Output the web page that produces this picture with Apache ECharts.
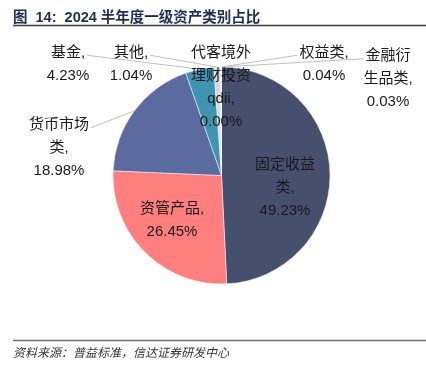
<!DOCTYPE html>
<html>
<head>
<meta charset="utf-8">
<script src="https://cdn.jsdelivr.net/npm/echarts@6/dist/echarts.min.js"></script>
<style>html,body{margin:0;padding:0;background:#fff;}#c{width:426px;height:370px;}</style>
</head>
<body>
<div id="c"></div>
<script>
const categories = ['固定收益类', '资管产品', '货币市场类', '基金', '其他', '代客境外理财投资qdii', '权益类', '金融衍生品类'];
const values = [49.23, 26.45, 18.98, 4.23, 1.04, 0.00, 0.04, 0.03];
const labelTexts = ['固定收益\n类,', '资管产品,', '货币市场\n类,', '基金,', '其他,', '代客境外\n理财投资\nqdii,', '权益类,', '金融衍\n生品类,'];
const colors = ['#474F6E', '#FF7F7F', '#5B6BA0', '#3E95B2', '#D9D9D9', '#D9D9D9', '#A5A5A5', '#7F7F7F'];

const labelPos = [
  [285, 188], [172, 220], [59, 148], [68, 64], [131, 64], [221, 87], [324, 64], [388, 79]
];
// which side of the label the leader line attaches to (1 = right, -1 = left, 0 = none)
const lineSide = [0, 0, 1, 1, 1, 0, -1, -1];
const font = '"Liberation Sans", "Noto Sans CJK SC", sans-serif';
const LH = 23;

const chart = echarts.init(document.getElementById('c'), null, {renderer: 'canvas'});
chart.setOption({
  animation: false,
  title: {
    text: '图  14:  2024 半年度一级资产类别占比',
    left: 8, top: 6,
    textStyle: {fontFamily: font, fontSize: 14.5, fontWeight: 'bold', color: '#1F2D55'}
  },
  graphic: [
    {type: 'line', shape: {x1: 13, y1: 25.5, x2: 426, y2: 25.5}, style: {stroke: '#3a3a3a', lineWidth: 1.5}},
    {type: 'line', shape: {x1: 13, y1: 340.5, x2: 426, y2: 340.5}, style: {stroke: '#707070', lineWidth: 1.5}},
    {type: 'text', left: 13, top: 346, style: {text: '资料来源：普益标准，信达证券研发中心', fontFamily: '"Noto Sans CJK SC", sans-serif', fontStyle: 'italic', fontSize: 12, fill: '#333'}}
  ],
  series: [{
    type: 'pie',
    center: [221.5, 175.5],
    radius: [0, 108.5],
    startAngle: 90,
    clockwise: true,
    avoidLabelOverlap: false,
    itemStyle: {borderColor: '#fff', borderWidth: 0.5},
    label: {
      show: true,
      position: 'outside',
      fontFamily: font,
      fontSize: 15,
      lineHeight: LH,
      color: '#1a1a1a',
      formatter: p => labelTexts[p.dataIndex] + '\n' + values[p.dataIndex].toFixed(2) + '%'
    },
    labelLine: {show: true, lineStyle: {color: '#BFBFBF', width: 1}, length: 10, length2: 10},
    labelLayout: p => {
      const i = p.dataIndex;
      const [x, y] = labelPos[i];
      const out = {x: x, y: y, align: 'center', verticalAlign: 'middle'};
      if (lineSide[i] !== 0 && p.labelLinePoints && p.labelLinePoints.length) {
        const r = p.labelRect;
        const lines = labelTexts[i].split('\n');
        const w = Math.max.apply(null, lines.map(s => {
          const probe = echarts.format.getTextRect ? null : null;
          return 0;
        }));
        const ctx = document.createElement('canvas').getContext('2d');
        ctx.font = '15px ' + font;
        const firstW = ctx.measureText(lines[0]).width;
        const top = y - r.height / 2;
        const ex = x + lineSide[i] * (firstW / 2 + 2);
        const ey = top + LH * 0.62;
        out.labelLinePoints = [p.labelLinePoints[0], [ex, ey]];
      }
      return out;
    },
    data: categories.map((n, i) => ({
      name: n,
      value: values[i],
      itemStyle: {color: colors[i]},
      labelLine: {show: lineSide[i] !== 0}
    }))
  }]
});
</script>
</body>
</html>
